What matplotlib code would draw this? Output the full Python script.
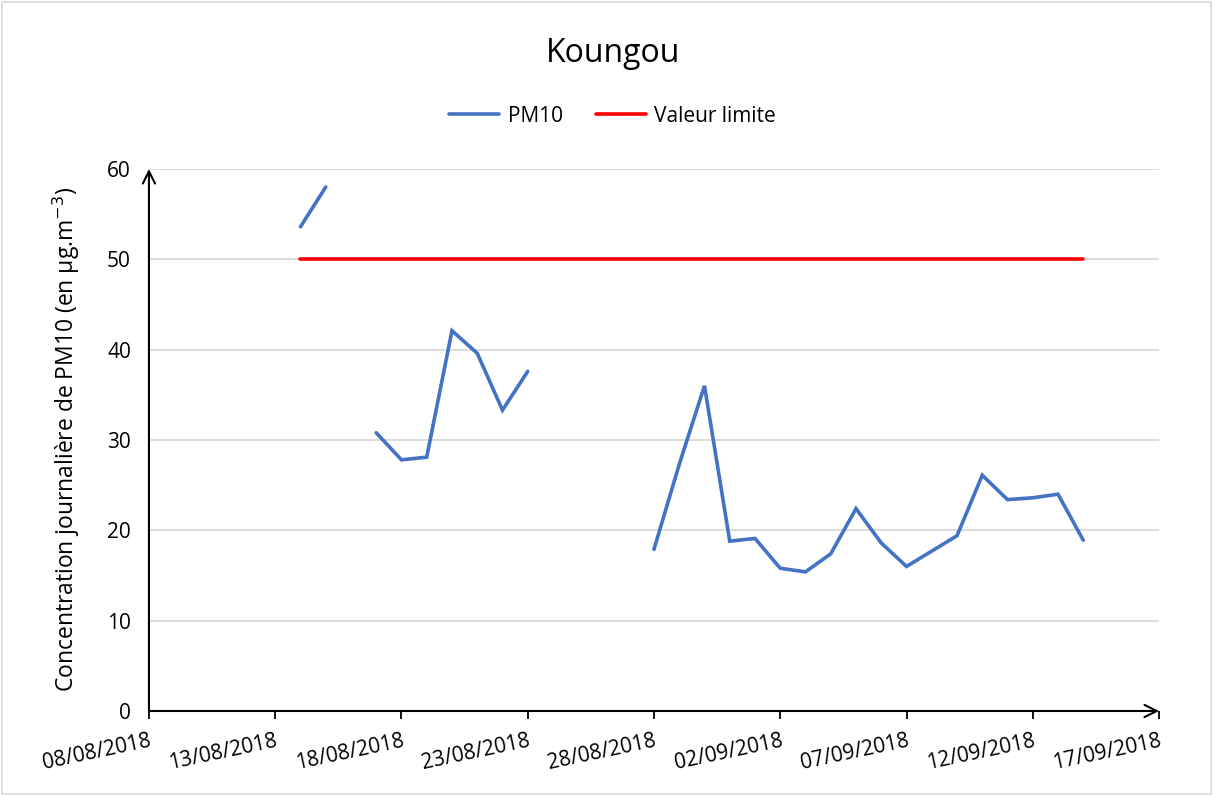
import matplotlib
matplotlib.use("Agg")
import matplotlib.pyplot as plt
import matplotlib.dates as mdates
import numpy as np
import pandas as pd

plt.rcParams['font.family'] = ['Open Sans', 'DejaVu Sans']

# daily PM10 values (NaN breaks the line where there was no measurement)
pm10_dates = (list(pd.date_range("2018-08-14", "2018-08-16"))
              + list(pd.date_range("2018-08-17", "2018-08-23"))
              + [pd.Timestamp("2018-08-25")]
              + list(pd.date_range("2018-08-28", "2018-09-14")))
pm10_vals = [53.6, 58.0, np.nan,
             30.8, 27.8, 28.1, 42.1, 39.6, 33.3, 37.6, np.nan,
             17.9, 27.3, 36.0, 18.8, 19.1, 15.8, 15.4, 17.4, 22.4, 18.6,
             16.0, 17.7, 19.4, 26.1, 23.4, 23.6, 24.0, 18.9]

limit_dates = [pd.Timestamp("2018-08-14"), pd.Timestamp("2018-09-14")]
limit_vals = [50, 50]

xticks = pd.date_range("2018-08-08", "2018-09-17", freq="5D")

fig = plt.figure(figsize=(12.13, 7.96), dpi=100)
ax = fig.add_axes([0.1228, 0.1068, 0.8327, 0.6809])

ax.plot(pm10_dates, pm10_vals, color="#4472c4", lw=2.6, label="PM10",
        solid_capstyle="round", solid_joinstyle="miter")
ax.plot(limit_dates, limit_vals, color="#ff0000", lw=2.6,
        label="Valeur limite", solid_capstyle="round")

ax.set_xlim(xticks[0], xticks[-1])
ax.set_ylim(0, 60)
ax.set_yticks(range(0, 61, 10))
ax.set_xticks(xticks)
ax.xaxis.set_major_formatter(mdates.DateFormatter("%d/%m/%Y"))
plt.setp(ax.get_xticklabels(), rotation=12, ha="right", rotation_mode="anchor")
ax.tick_params(axis="x", length=6, width=1.3, color="black", labelsize=15, pad=8)
ax.tick_params(axis="y", length=0, labelsize=15, pad=13)

ax.grid(axis="y", color="#d9d9d9", lw=1.3)
ax.set_axisbelow(True)
for s in ax.spines.values():
    s.set_visible(False)

# axes with arrow heads
ax.annotate("", xy=(0, 1.0), xytext=(0, 0), xycoords="axes fraction",
            arrowprops=dict(arrowstyle="->", lw=1.5, color="black",
                            mutation_scale=22, shrinkA=0, shrinkB=0))
ax.annotate("", xy=(1.0, 0), xytext=(0, 0), xycoords="axes fraction",
            arrowprops=dict(arrowstyle="->", lw=1.5, color="black",
                            mutation_scale=22, shrinkA=0, shrinkB=0))

ax.set_ylabel("Concentration journalière de PM10 (en µg.m$^{-3}$)", fontsize=16.5,
              labelpad=18)
fig.text(0.505, 0.933, "Koungou", ha="center", va="center", fontsize=23)
fig.legend(loc="center", bbox_to_anchor=(0.505, 0.854), ncol=2, frameon=False,
           fontsize=15, handlelength=2.4, columnspacing=1.6, handletextpad=0.4)

# chart border
fig.add_artist(plt.Rectangle((0.002, 0.002), 0.996, 0.996, transform=fig.transFigure,
                             fill=False, edgecolor="#d9d9d9", lw=1.2))

fig.savefig("out.png", dpi=100)
